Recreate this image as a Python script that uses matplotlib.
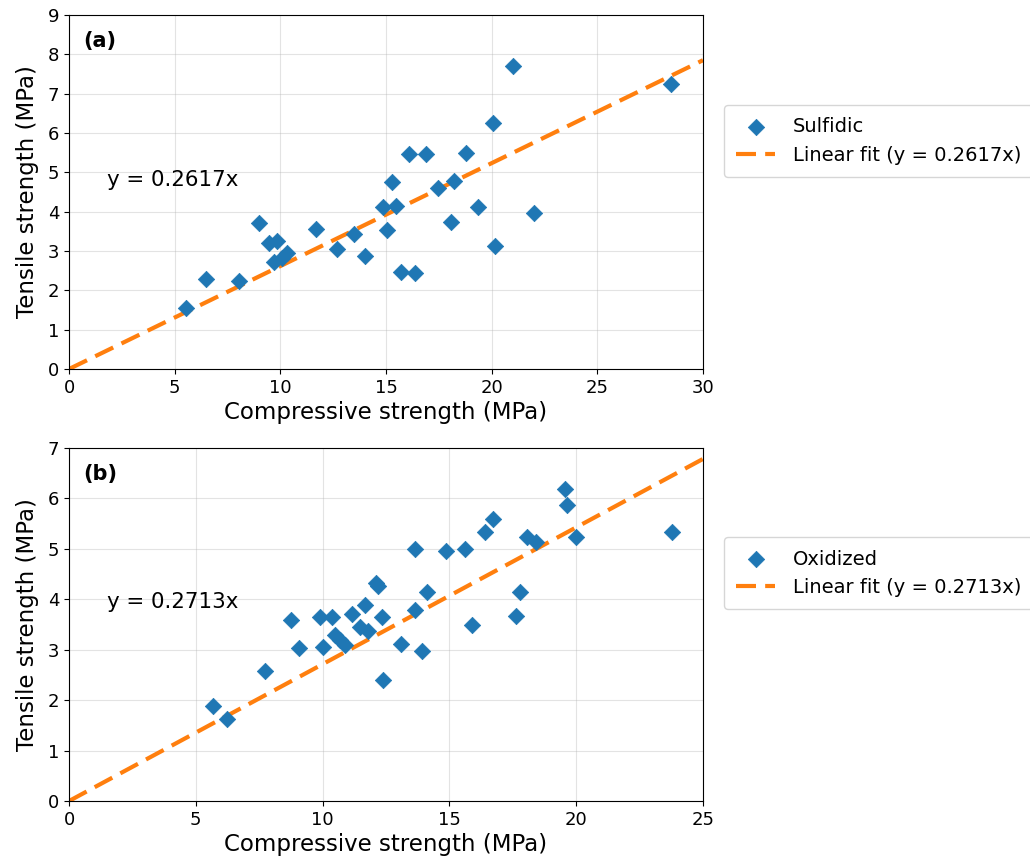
import matplotlib
matplotlib.use("Agg")
import matplotlib.pyplot as plt

# sulfidic samples
sulf_comp = [5.54, 6.47, 8.03, 9.0, 9.47, 9.86, 9.7, 10.06, 10.3, 11.69, 12.67,
             13.47, 14.02, 14.84, 15.07, 15.3, 15.46, 15.71, 16.09, 16.37, 16.91,
             17.46, 18.06, 18.22, 18.77, 19.37, 20.05, 20.16, 21.01, 22.0, 28.47]
sulf_tens = [1.54, 2.28, 2.25, 3.70, 3.21, 3.25, 2.73, 2.81, 2.94, 3.57, 3.04,
             3.42, 2.88, 4.13, 3.54, 4.76, 4.14, 2.47, 5.47, 2.45, 5.47,
             4.61, 3.73, 4.77, 5.50, 4.12, 6.26, 3.12, 7.70, 3.97, 7.24]
sulf_slope = 0.2617

# oxidized samples
ox_comp = [5.67, 6.22, 7.73, 8.77, 9.06, 9.9, 10.03, 10.38, 10.5, 10.7, 10.9,
           11.15, 11.47, 11.67, 11.8, 12.1, 12.2, 12.33, 12.39, 13.08, 13.64,
           13.64, 13.92, 14.1, 14.85, 15.6, 15.88, 16.4, 16.71, 17.61, 17.78,
           18.05, 18.42, 19.56, 19.62, 19.99, 23.77]
ox_tens = [1.88, 1.62, 2.58, 3.59, 3.03, 3.64, 3.05, 3.64, 3.30, 3.20, 3.10,
           3.71, 3.46, 3.88, 3.37, 4.33, 4.26, 3.65, 2.40, 3.11, 5.00,
           3.79, 2.98, 4.14, 4.96, 4.99, 3.49, 5.34, 5.60, 3.67, 4.14,
           5.23, 5.14, 6.19, 5.87, 5.24, 5.34]
ox_slope = 0.2713

blue = '#1f77b4'
orange = '#ff7f0e'

fig = plt.figure(figsize=(10.3, 8.63), dpi=100)
ax1 = fig.add_axes([0.067, 0.5724, 0.6155, 0.4102])
ax2 = fig.add_axes([0.067, 0.0718, 0.6155, 0.4091])

panels = [
    (ax1, sulf_comp, sulf_tens, sulf_slope, 'Sulfidic', '(a)', 30, 9, 0.534),
    (ax2, ox_comp, ox_tens, ox_slope, 'Oxidized', '(b)', 25, 7, 0.564),
]

for ax, xs, ys, k, name, tag, xmax, ymax, ty in panels:
    ax.scatter(xs, ys, marker='D', s=70, color=blue, linewidths=0.5,
               label=name, zorder=3)
    ax.plot([0, xmax], [0, k * xmax], '--', color=orange, lw=3,
            dashes=(4.8, 2.2), label='Linear fit (y = %.4fx)' % k, zorder=2)
    ax.set_xlim(0, xmax)
    ax.set_ylim(0, ymax)
    ax.set_xticks(range(0, xmax + 1, 5))
    ax.set_yticks(range(0, ymax + 1))
    ax.grid(True, color='#b0b0b0', alpha=0.35, lw=0.8)
    ax.set_axisbelow(True)
    ax.tick_params(labelsize=13)
    ax.set_xlabel('Compressive strength (MPa)', fontsize=16.5, labelpad=3)
    ax.set_ylabel('Tensile strength (MPa)', fontsize=16.5, labelpad=6)
    ax.text(0.022, 0.955, tag, transform=ax.transAxes, fontsize=15,
            fontweight='bold', va='top')
    ax.text(0.06, ty, 'y = %.4fx' % k, transform=ax.transAxes,
            fontsize=15.4, va='center')
    ax.legend(loc='upper left', bbox_to_anchor=(1.018, 0.774), fontsize=14,
              handlelength=2.0, handletextpad=0.9, borderpad=0.62)

fig.savefig('out.png', dpi=100)
